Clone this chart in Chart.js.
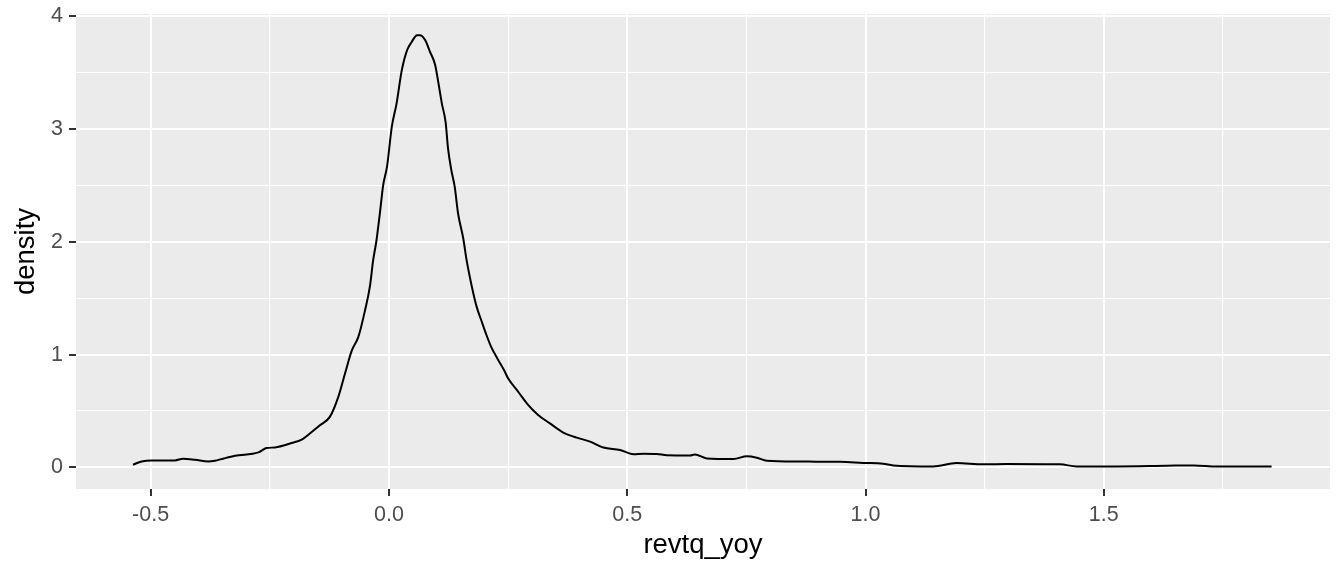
<!DOCTYPE html>
<html>
<head>
<meta charset="utf-8">
<script src="https://cdn.jsdelivr.net/npm/chart.js@4.4.0/dist/chart.umd.min.js"></script>
<style>
  html, body { margin: 0; padding: 0; background: #fff; }
  #wrap { width: 1344px; height: 576px; }
</style>
</head>
<body>
<div id="wrap"><canvas id="grafico" width="1344" height="576"></canvas></div>
<script>
// revtq_yoy values (x) and estimated density (y)
const revtqYoy = [
  -0.537, -0.519, -0.498, -0.449, -0.432, -0.407, -0.379, -0.365, -0.323, -0.274,
  -0.257, -0.239, -0.204, -0.183, -0.166, -0.145, -0.124, -0.106, -0.092, -0.078,
  -0.064, -0.050, -0.040, -0.033, -0.026, -0.019, -0.012, -0.004, 0.006, 0.016,
  0.027, 0.038, 0.048, 0.059, 0.065, 0.076, 0.086, 0.097, 0.104, 0.111,
  0.119, 0.124, 0.131, 0.138, 0.145, 0.156, 0.163, 0.174, 0.184, 0.195,
  0.205, 0.215, 0.229, 0.242, 0.250, 0.271, 0.292, 0.313, 0.338, 0.366,
  0.394, 0.422, 0.450, 0.485, 0.513, 0.534, 0.562, 0.583, 0.632, 0.642,
  0.667, 0.723, 0.751, 0.772, 0.793, 0.863, 0.905, 0.947, 0.995, 1.037,
  1.058, 1.142, 1.191, 1.247, 1.296, 1.408, 1.443, 1.527, 1.632, 1.689,
  1.737, 1.852
];
const density = [
  0.024, 0.053, 0.062, 0.062, 0.077, 0.068, 0.053, 0.060, 0.104, 0.133,
  0.172, 0.177, 0.216, 0.246, 0.300, 0.374, 0.448, 0.628, 0.835, 1.035,
  1.160, 1.396, 1.603, 1.840, 2.017, 2.254, 2.505, 2.667, 3.020, 3.227,
  3.524, 3.700, 3.775, 3.834, 3.834, 3.790, 3.688, 3.570, 3.406, 3.229,
  3.060, 2.830, 2.636, 2.490, 2.254, 2.030, 1.838, 1.603, 1.426, 1.290,
  1.170, 1.065, 0.955, 0.860, 0.790, 0.672, 0.554, 0.465, 0.390, 0.309,
  0.264, 0.229, 0.176, 0.155, 0.117, 0.122, 0.120, 0.108, 0.106, 0.115,
  0.080, 0.075, 0.098, 0.086, 0.060, 0.053, 0.050, 0.050, 0.040, 0.033,
  0.018, 0.009, 0.039, 0.027, 0.030, 0.027, 0.009, 0.009, 0.015, 0.018,
  0.009, 0.009
];
const xTicks = [-0.5, 0.0, 0.5, 1.0, 1.5];
const yTicks = [0, 1, 2, 3, 4];

const pontos = revtqYoy.map((x, i) => ({ x: x, y: density[i] }));

const isMajor = (v, lista) => lista.some(t => Math.abs(t - v) < 1e-6);

// ggplot grey panel
const fundoPainel = {
  id: 'fundoPainel',
  beforeDraw(chart) {
    const a = chart.chartArea;
    const c = chart.ctx;
    c.save();
    c.fillStyle = '#EBEBEB';
    c.fillRect(a.left, a.top, a.right - a.left, a.bottom - a.top);
    c.restore();
  }
};

const semPadding = s => {
  s.paddingTop = 0; s.paddingBottom = 0;
  s.paddingLeft = 0; s.paddingRight = 0;
};

const ctx = document.getElementById('grafico').getContext('2d');
const chart = new Chart(ctx, {
  type: 'scatter',
  data: {
    datasets: [{
      label: 'density',
      data: pontos,
      showLine: true,
      borderColor: '#000000',
      borderWidth: 2,
      pointRadius: 0,
      cubicInterpolationMode: 'monotone',
      fill: false
    }]
  },
  options: {
    responsive: false,
    animation: false,
    layout: { padding: { top: 14, right: 14, left: 0, bottom: 0 } },
    plugins: {
      legend: { display: false },
      tooltip: { enabled: false }
    },
    scales: {
      x: {
        type: 'linear',
        min: -0.6566,
        max: 1.9746,
        afterFit(s) { s.height = 87; semPadding(s); },
        border: { display: false },
        grid: {
          color: '#FFFFFF',
          lineWidth: c => isMajor(c.tick.value, xTicks) ? 2 : 1.1,
          tickColor: c => isMajor(c.tick.value, xTicks) ? '#333333' : 'rgba(0,0,0,0)',
          tickWidth: 2,
          tickLength: 7
        },
        ticks: {
          stepSize: 0.25,
          includeBounds: false,
          autoSkip: false,
          maxRotation: 0,
          padding: 6,
          color: '#4D4D4D',
          font: { family: 'Liberation Sans, Arial', size: 21.5 },
          callback: v => isMajor(v, xTicks) ? v.toFixed(1) : ''
        },
        title: {
          display: true,
          text: 'revtq_yoy',
          color: '#000000',
          font: { family: 'Liberation Sans, Arial', size: 27.5 },
          padding: { top: 0, bottom: 14 }
        }
      },
      y: {
        type: 'linear',
        min: -0.1915,
        max: 4.0215,
        afterFit(s) { s.width = 76; semPadding(s); },
        border: { display: false },
        grid: {
          color: '#FFFFFF',
          lineWidth: c => isMajor(c.tick.value, yTicks) ? 2 : 1.1,
          tickColor: c => isMajor(c.tick.value, yTicks) ? '#333333' : 'rgba(0,0,0,0)',
          tickWidth: 2,
          tickLength: 7
        },
        ticks: {
          stepSize: 0.5,
          includeBounds: false,
          autoSkip: false,
          padding: 6,
          color: '#4D4D4D',
          font: { family: 'Liberation Sans, Arial', size: 21.5 },
          callback: v => isMajor(v, yTicks) ? String(Math.round(v)) : ''
        },
        title: {
          display: true,
          text: 'density',
          color: '#000000',
          font: { family: 'Liberation Sans, Arial', size: 27.5 },
          padding: { top: 10, bottom: 0 }
        }
      }
    }
  },
  plugins: [fundoPainel]
});
</script>
</body>
</html>
